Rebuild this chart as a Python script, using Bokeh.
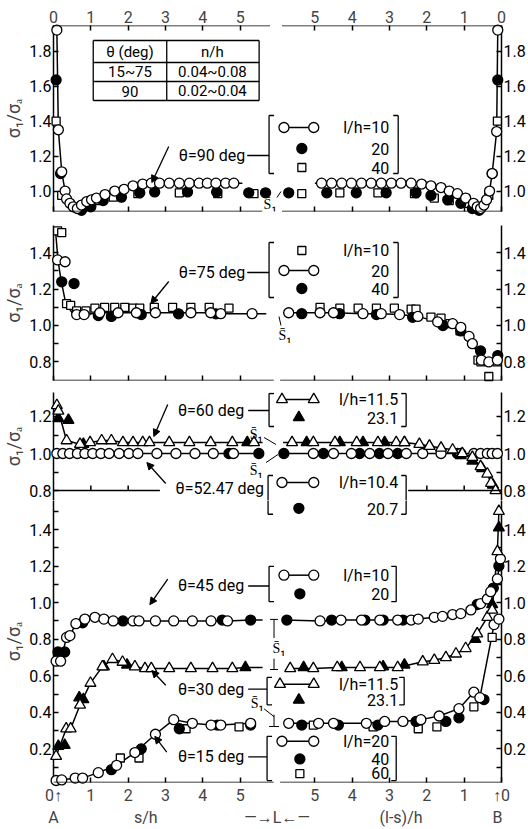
import math
from bokeh.plotting import figure
from bokeh.layouts import column
from bokeh.models import Range1d, LinearAxis, FixedTicker, Label, Arrow, NormalHead, PrintfTickFormatter
from bokeh.embed import file_html
from bokeh.resources import INLINE

FONT = "Roboto"

# ---------------- data ----------------
# *_s : s/h measured from end A (left half);  *_r : (l-s)/h measured from end B (right half)
# values are sigma1/sigma_a

# theta = 90 deg
t90_l10_s  = [0.09, 0.13, 0.22, 0.31, 0.35, 0.44, 0.53, 0.64, 0.75, 0.89, 1.02, 1.15, 1.38, 1.64, 1.89, 2.13, 2.39, 2.62, 2.84, 3.10, 3.37, 3.64, 3.90, 4.12, 4.35, 4.61, 4.83]
t90_l10_sv = [1.92, 1.35, 1.11, 1.00, 0.955, 0.93, 0.91, 0.90, 0.92, 0.94, 0.95, 0.96, 0.98, 1.00, 1.01, 1.03, 1.04, 1.045, 1.045, 1.045, 1.045, 1.045, 1.045, 1.045, 1.045, 1.045, 1.045]
t90_l10_r  = [4.82, 4.55, 4.28, 4.02, 3.75, 3.49, 3.22, 2.95, 2.69, 2.42, 2.14, 1.89, 1.62, 1.40, 1.18, 0.96, 0.75, 0.65, 0.56, 0.47, 0.40, 0.32, 0.25, 0.13, 0.10]
t90_l10_rv = [1.045, 1.045, 1.045, 1.045, 1.045, 1.045, 1.045, 1.045, 1.045, 1.045, 1.04, 1.03, 1.02, 1.00, 0.985, 0.96, 0.93, 0.91, 0.90, 0.92, 0.95, 1.00, 1.10, 1.34, 1.92]
t90_l20_s  = [0.07, 0.19, 0.75, 1.00, 1.33, 1.82, 2.31, 2.71, 3.59, 4.37, 5.23, 5.68]
t90_l20_sv = [1.635, 1.10, 0.89, 0.91, 0.946, 0.965, 0.99, 0.995, 0.995, 0.995, 0.99, 0.99]
t90_l20_r  = [5.70, 4.68, 3.89, 3.09, 2.29, 1.89, 1.44, 1.09, 0.78, 0.60, 0.25, 0.10]
t90_l20_rv = [0.99, 0.99, 0.99, 0.99, 0.99, 0.975, 0.95, 0.93, 0.90, 0.89, 1.10, 1.635]
t90_l40_s  = [0.07, 0.22, 1.15, 1.60, 2.26, 3.37, 4.40, 5.37]
t90_l40_sv = [1.40, 0.975, 0.946, 0.965, 0.985, 0.99, 0.985, 0.985]
t90_l40_r  = [5.35, 4.33, 3.31, 2.33, 1.80, 1.40, 0.87, 0.34, 0.11]
t90_l40_rv = [0.985, 0.99, 0.99, 0.985, 0.96, 0.946, 0.93, 0.975, 1.40]
t90_curve_s,  t90_curve_sv = t90_l10_s + [5.06], t90_l10_sv + [1.045]
t90_curve_r,  t90_curve_rv = [5.00] + t90_l10_r, [1.045] + t90_l10_rv

# theta = 75 deg
t75_l10_s  = [0.11, 0.22, 0.35, 0.46, 0.62, 0.87, 1.11, 1.37, 1.64, 1.91, 2.13, 2.31, 2.70, 3.19, 3.68, 4.17, 4.70]
t75_l10_sv = [1.52, 1.51, 1.12, 1.11, 1.08, 1.08, 1.095, 1.10, 1.10, 1.10, 1.095, 1.095, 1.10, 1.10, 1.10, 1.10, 1.095]
t75_l10_r  = [4.86, 4.33, 3.84, 3.35, 2.87, 2.42, 2.29, 1.89, 1.62, 1.38, 1.11, 0.63, 0.55, 0.34, 0.12]
t75_l10_rv = [1.10, 1.095, 1.095, 1.095, 1.095, 1.09, 1.09, 1.046, 1.04, 1.01, 0.97, 0.81, 0.80, 0.72, 0.80]
t75_l20_s  = [0.11, 0.31, 0.62, 0.82, 1.24, 1.73, 2.22, 2.73, 3.68, 4.21, 4.48, 5.32]
t75_l20_sv = [1.36, 1.35, 1.06, 1.06, 1.07, 1.07, 1.07, 1.07, 1.07, 1.07, 1.065, 1.065]
t75_l20_r  = [5.70, 4.86, 4.50, 3.71, 3.22, 2.73, 2.24, 1.71, 1.31, 1.09, 0.87, 0.78, 0.54, 0.34, 0.11]
t75_l20_rv = [1.07, 1.07, 1.07, 1.065, 1.065, 1.06, 1.05, 1.02, 1.01, 0.99, 0.94, 0.90, 0.81, 0.80, 0.81]
t75_l40_s  = [0.22, 0.55, 1.20, 1.55, 2.35, 3.35, 4.35]
t75_l40_sv = [1.24, 1.23, 1.055, 1.05, 1.06, 1.064, 1.064]
t75_l40_r  = [5.35, 4.34, 3.35, 2.38, 1.57, 1.09, 0.56, 0.10]
t75_l40_rv = [1.065, 1.065, 1.06, 1.045, 1.00, 0.97, 0.86, 0.835]
t75_curve_s  = [0.05, 0.12, 0.20, 0.33, 0.50, 0.62, 0.82, 1.24, 1.73, 2.22, 2.73, 3.68, 4.21, 4.48, 5.32, 5.70]
t75_curve_sv = [1.53, 1.36, 1.25, 1.12, 1.07, 1.06, 1.06, 1.07, 1.07, 1.07, 1.07, 1.07, 1.07, 1.065, 1.065, 1.065]
t75_curve_r,  t75_curve_rv = [5.85] + t75_l20_r, [1.07] + t75_l20_rv

# theta = 60 deg
t60_l115_s  = [0.09, 0.13, 0.35, 0.71, 0.98, 1.29, 1.55, 1.86, 2.13, 2.39, 2.57, 3.10, 3.64, 4.21, 4.79, 5.37]
t60_l115_sv = [1.26, 1.23, 1.07, 1.05, 1.06, 1.07, 1.07, 1.06, 1.06, 1.06, 1.06, 1.06, 1.06, 1.06, 1.06, 1.06]
t60_l115_r  = [5.61, 5.04, 4.46, 3.88, 3.31, 2.82, 2.60, 2.20, 1.93, 1.62, 1.31, 1.05, 0.78, 0.56, 0.38, 0.28, 0.16]
t60_l115_rv = [1.06, 1.06, 1.06, 1.06, 1.06, 1.06, 1.06, 1.05, 1.04, 1.03, 1.02, 1.00, 0.98, 0.93, 0.89, 0.84, 0.80]
t60_l231_s  = [0.13, 0.40, 0.80, 5.19]
t60_l231_sv = [1.19, 1.18, 1.05, 1.06]
t60_l231_r  = [5.22, 4.33, 3.71, 3.13, 2.60, 1.93, 1.09, 0.78, 0.52, 0.23]
t60_l231_rv = [1.06, 1.06, 1.06, 1.06, 1.06, 1.04, 0.99, 0.96, 0.92, 0.83]
t60_curve_s,  t60_curve_sv = t60_l115_s + [5.60], t60_l115_sv + [1.06]
t60_curve_r,  t60_curve_rv = [5.85] + t60_l115_r, [1.06] + t60_l115_rv

# theta = 52.47 deg
t52_l104_s  = [0.09, 0.25, 0.43, 0.64, 0.84, 1.05, 1.27, 1.49, 1.76, 2.02, 2.26, 2.77, 3.28, 3.79, 4.28, 4.82]
t52_l104_sv = [1.0, 1.0, 1.0, 1.0, 1.0, 1.0, 1.0, 1.0, 1.0, 1.0, 1.0, 1.0, 1.0, 1.0, 1.0, 1.0]
t52_l104_r  = [5.04, 4.50, 4.02, 3.53, 3.04, 2.55, 2.11, 1.62, 1.09, 0.74, 0.56, 0.38, 0.25, 0.11]
t52_l104_rv = [1.0, 1.0, 1.0, 1.0, 1.0, 1.0, 1.0, 1.0, 1.0, 1.0, 1.0, 1.0, 1.0, 1.0]
t52_l207_s  = [4.70, 5.50]
t52_l207_sv = [1.0, 1.0]
t52_l207_r  = [5.83, 4.77, 3.80, 3.27, 2.78, 1.18]
t52_l207_rv = [1.0, 1.0, 1.0, 1.0, 1.0, 1.0]
t52_curve_s,  t52_curve_sv = t52_l104_s + [5.50], t52_l104_sv + [1.0]
t52_curve_r,  t52_curve_rv = [5.83] + t52_l104_r, [1.0] + t52_l104_rv

# theta = 45 deg
t45_l10_s  = [0.07, 0.19, 0.35, 0.44, 0.60, 0.84, 1.11, 1.35, 1.60, 2.13, 2.29, 2.73, 3.22, 3.72, 4.22, 4.66]
t45_l10_sv = [0.68, 0.68, 0.81, 0.82, 0.885, 0.91, 0.92, 0.91, 0.90, 0.90, 0.90, 0.90, 0.90, 0.90, 0.90, 0.90]
t45_l10_r  = [4.86, 4.30, 3.75, 3.26, 2.78, 2.42, 2.23, 1.80, 1.58, 1.31, 1.09, 0.82, 0.56, 0.38, 0.29, 0.11, 0.03]
t45_l10_rv = [0.90, 0.905, 0.905, 0.905, 0.905, 0.905, 0.91, 0.92, 0.925, 0.935, 0.94, 0.96, 0.995, 1.02, 1.06, 1.13, 1.24]
t45_l20_s  = [0.12, 0.30, 0.78, 1.86, 4.52, 5.28]
t45_l20_sv = [0.73, 0.73, 0.89, 0.90, 0.905, 0.905]
t45_l20_r  = [5.75, 4.55, 3.66, 3.17, 2.64, 0.65, 0.22, 0.07]
t45_l20_rv = [0.905, 0.905, 0.905, 0.905, 0.905, 0.99, 1.08, 1.20]
t45_curve_s,  t45_curve_sv = t45_l10_s + [5.28, 5.60], t45_l10_sv + [0.905, 0.905]
t45_curve_r,  t45_curve_rv = [5.80] + t45_l10_r, [0.905] + t45_l10_rv

# theta = 30 deg
t30_l115_s  = [0.07, 0.34, 0.46, 0.71, 0.99, 1.31, 1.58, 1.85, 2.18, 2.45, 2.62, 3.10, 3.68, 4.26, 4.79]
t30_l115_sv = [0.16, 0.31, 0.31, 0.44, 0.56, 0.65, 0.69, 0.675, 0.65, 0.64, 0.64, 0.64, 0.64, 0.64, 0.64]
t30_l115_r  = [5.66, 5.04, 4.40, 3.79, 3.26, 2.78, 2.11, 1.80, 1.49, 1.22, 0.96, 0.65, 0.38, 0.25, 0.11, 0.07]
t30_l115_rv = [0.64, 0.64, 0.645, 0.645, 0.645, 0.645, 0.677, 0.685, 0.70, 0.72, 0.75, 0.83, 0.92, 0.96, 1.28, 1.50]
t30_l231_s  = [0.13, 0.30, 0.69, 0.80, 1.35, 1.97, 5.14]
t30_l231_sv = [0.215, 0.22, 0.48, 0.47, 0.65, 0.66, 0.645]
t30_l231_r  = [5.30, 4.28, 3.17, 2.60, 0.70, 0.25, 0.07]
t30_l231_rv = [0.645, 0.645, 0.65, 0.66, 0.80, 0.99, 1.41]
t30_curve_s,  t30_curve_sv = t30_l115_s + [5.14, 5.60], t30_l115_sv + [0.645, 0.645]
t30_curve_r,  t30_curve_rv = t30_l115_r, t30_l115_rv

# theta = 15 deg
t15_l20_s  = [0.07, 0.22, 0.58, 0.78, 1.20, 1.69, 2.18, 2.73, 3.22, 3.72, 4.22, 4.48, 5.28]
t15_l20_sv = [0.027, 0.03, 0.04, 0.04, 0.07, 0.11, 0.18, 0.28, 0.36, 0.34, 0.33, 0.33, 0.34]
t15_l20_r  = [5.70, 4.90, 4.50, 3.62, 3.13, 2.64, 2.16, 1.67, 1.14, 0.74, 0.58, 0.20, 0.07]
t15_l20_rv = [0.34, 0.34, 0.34, 0.34, 0.35, 0.35, 0.36, 0.38, 0.42, 0.51, 0.48, 0.88, 0.91]
t15_l40_s  = [1.55, 2.35, 3.37, 4.39, 5.28]
t15_l40_sv = [0.086, 0.20, 0.31, 0.33, 0.33]
t15_l40_r  = [5.35, 4.37, 3.31, 2.29, 1.49, 1.14, 0.47]
t15_l40_rv = [0.33, 0.33, 0.33, 0.35, 0.35, 0.37, 0.47]
t15_l60_s  = [1.79, 2.29, 3.55, 4.97]
t15_l60_sv = [0.15, 0.15, 0.31, 0.32]
t15_l60_r  = [5.04, 3.44, 2.23, 1.73, 0.74, 0.25]
t15_l60_rv = [0.33, 0.32, 0.31, 0.32, 0.43, 0.81]
t15_curve_s,  t15_curve_sv = t15_l20_s, t15_l20_sv
t15_curve_r,  t15_curve_rv = t15_l20_r, t15_l20_rv

# ticks and captions
s_ticks = [0, 1, 2, 3, 4, 5]
r_ticks = [5, 4, 3, 2, 1, 0]
p1_major, p1_minor = [1.0, 1.2, 1.4, 1.6, 1.8], []
p2_major, p2_minor = [0.8, 1.0, 1.2, 1.4], [0.9, 1.1, 1.3]
p3_major, p3_minor = [0.8, 1.0, 1.2], [0.9, 1.1]
p4_major, p4_minor = [0.2, 0.4, 0.6, 0.8, 1.0, 1.2, 1.4], [0.1, 0.3, 0.5, 0.7, 0.9, 1.1, 1.3, 1.5]
Y_TITLE = "\u03c3\u2081/\u03c3\u2090"
CAPTIONS = ["A", "s/h", "\u2014\u2192L\u2190\u2014", "(l-s)/h", "B"]

# ---------------- layout geometry ----------------
XB = 12.0                 # position of (l-s)/h = 0 on the shared horizontal scale
FRAME_L, FRAME_R, W = 50, 501, 528
CAPTION_X = [0.0, 2.47, 5.99, 9.31, 11.89]
PANELS = [
    dict(ytop=1.946, ybot=0.883, ftop=25, fbot=211, btop=25, bbot=9),
    dict(ytop=1.549, ybot=0.698, ftop=225, fbot=380, btop=5, bbot=5),
    dict(ytop=1.3297, ybot=0.746, ftop=392, fbot=500, btop=7, bbot=0),
    dict(ytop=1.559, ybot=0.016, ftop=500, fbot=787, btop=0, bbot=42),
]

STYLES = {
    "oc": dict(marker="circle", size=10, fill_color="white"),
    "fc": dict(marker="circle", size=10, fill_color="black"),
    "sq": dict(marker="square", size=8, fill_color="white"),
    "ot": dict(marker="triangle", size=11, fill_color="white"),
    "ft": dict(marker="triangle", size=11, fill_color="black"),
}


def P(k, px, py):
    g = PANELS[k]
    x = (px - FRAME_L) / (FRAME_R - FRAME_L) * XB
    y = g["ytop"] - (py - g["ftop"]) / (g["fbot"] - g["ftop"]) * (g["ytop"] - g["ybot"])
    return x, y


def make_fig(k, majors, minors):
    g = PANELS[k]
    p = figure(width=W, height=g["btop"] + (g["fbot"] - g["ftop"]) + g["bbot"],
               x_range=Range1d(0, XB), y_range=Range1d(g["ybot"], g["ytop"]),
               x_axis_type=None, y_axis_type=None, toolbar_location=None,
               output_backend="svg", min_border_left=FRAME_L, min_border_right=W - FRAME_R,
               min_border_top=g["btop"], min_border_bottom=g["bbot"],
               outline_line_color=None, background_fill_color="white",
               border_fill_color="white")
    for side in ("left", "right"):
        ax = LinearAxis(ticker=FixedTicker(ticks=majors, minor_ticks=minors),
                        formatter=PrintfTickFormatter(format="%.1f"),
                        major_tick_in=5, major_tick_out=0, minor_tick_in=5, minor_tick_out=0,
                        major_label_standoff=2, axis_line_width=1.5,
                        major_tick_line_width=1.5, minor_tick_line_width=1.5,
                        major_label_text_font=FONT, major_label_text_font_size="16px",
                        major_label_text_color="black")
        if side == "left":
            ax.axis_label = Y_TITLE
            ax.axis_label_text_font = FONT
            ax.axis_label_text_font_size = "18px"
            ax.axis_label_text_font_style = "normal"
            ax.axis_label_standoff = 2
        p.add_layout(ax, side)
    return p


def xaxis(p, side, s_t, r_t, labelled):
    ticks = list(s_t) + [XB - r for r in r_t]
    ax = LinearAxis(ticker=FixedTicker(ticks=ticks, minor_ticks=[]), axis_line_color=None,
                    major_tick_in=5, major_tick_out=0, major_tick_line_width=1.5)
    if labelled:
        labels = {float(t): str(v) for t, v in zip(s_t, s_t)}
        labels.update({float(XB - r): str(r) for r in r_t})
        if side == "below":
            labels[0.0] = "0\u2191"
            labels[float(XB)] = "\u21910"
        ax.major_label_overrides = labels
        ax.major_label_text_font = FONT
        ax.major_label_text_font_size = "16px"
        ax.major_label_standoff = 3
    else:
        ax.major_label_text_font_size = "1px"
        ax.major_label_text_color = None
        ax.major_label_standoff = 0
    p.add_layout(ax, side)


def caption_axis(p):
    ax = LinearAxis(ticker=FixedTicker(ticks=CAPTION_X, minor_ticks=[]), axis_line_color=None,
                    major_tick_line_color=None, major_tick_in=0, major_tick_out=0,
                    major_label_overrides={x: c for x, c in zip(CAPTION_X, CAPTIONS)},
                    major_label_text_font=FONT, major_label_text_font_size="16px",
                    major_label_standoff=0)
    p.add_layout(ax, "below")


def seg(p, k, px0, py0, px1, py1, w=1.3, head=False):
    x0, y0 = P(k, px0, py0)
    x1, y1 = P(k, px1, py1)
    end = NormalHead(size=7, fill_color="black", line_color="black", line_width=1) if head else None
    p.add_layout(Arrow(x_start=x0, y_start=y0, x_end=x1, y_end=y1, start=None, end=end,
                       line_width=w, line_color="black", level="overlay"))


def hline(p, k, x0, x1, py, w=1.5):
    _, y = P(k, 0, py)
    p.add_layout(Arrow(x_start=x0, y_start=y, x_end=x1, y_end=y, start=None, end=None,
                       line_width=w, line_color="black", level="overlay"))


def vtick(p, k, x, py, length=5):
    _, y0 = P(k, 0, py)
    _, y1 = P(k, 0, py - length)
    p.add_layout(Arrow(x_start=x, y_start=y0, x_end=x, y_end=y1, start=None, end=None,
                       line_width=1.5, line_color="black", level="overlay"))


def txt(p, k, px, py, s, size=16, align="left", angle=0.0):
    x, y = P(k, px, py)
    p.add_layout(Label(x=x, y=y, text=s, text_font=FONT, text_font_size=f"{size}px",
                       text_align=align, text_baseline="middle", angle=angle,
                       text_color="black", level="overlay"))


def bracket(p, k, px, py0, py1, right=False, top=True, bottom=True):
    d = -5 if right else 5
    seg(p, k, px, py0, px, py1)
    if top:
        seg(p, k, px, py0, px + d, py0)
    if bottom:
        seg(p, k, px, py1, px + d, py1)


def key(p, k, px, py, kind):
    x, y = P(k, px, py)
    p.scatter([x], [y], line_color="black", line_width=1.3, level="overlay", **STYLES[kind])


def key_line(p, k, px0, px1, py, kind):
    x0, y = P(k, px0, py)
    x1, _ = P(k, px1, py)
    p.line([x0, x1], [y, y], line_color="black", line_width=1.5, level="overlay")
    p.scatter([x0, x1], [y, y], line_color="black", line_width=1.3, level="overlay", **STYLES[kind])


def series(p, s, sv, r, rv, kind):
    xs = list(s) + [XB - v for v in r]
    ys = list(sv) + list(rv)
    p.scatter(xs, ys, line_color="black", line_width=1.3, level="overlay", **STYLES[kind])


def curve(p, s, sv, r, rv):
    p.line(list(s), list(sv), line_color="black", line_width=1.5)
    p.line([XB - v for v in r], list(rv), line_color="black", line_width=1.5)


# ---------------- panel 1 : theta = 90 ----------------
p1 = make_fig(0, p1_major, p1_minor)
xaxis(p1, "above", s_ticks, r_ticks, True)
xaxis(p1, "below", s_ticks, r_ticks, False)
hline(p1, 0, 0, 5.8, 25)
hline(p1, 0, 6.12, XB, 25)
hline(p1, 0, 0, 5.59, 211)
hline(p1, 0, 6.12, XB, 211)
curve(p1, t90_curve_s, t90_curve_sv, t90_curve_r, t90_curve_rv)
series(p1, t90_l40_s, t90_l40_sv, t90_l40_r, t90_l40_rv, "sq")
series(p1, t90_l20_s, t90_l20_sv, t90_l20_r, t90_l20_rv, "fc")
series(p1, t90_l10_s, t90_l10_sv, t90_l10_r, t90_l10_rv, "oc")
# table
for (a, b, c, d) in [(90, 40, 257, 40), (90, 100, 257, 100), (90, 40, 90, 100), (257, 40, 257, 100),
                     (164, 40, 164, 100), (90, 62, 257, 62), (90, 81, 257, 81)]:
    seg(p1, 0, a, b, c, d, w=1.3)
txt(p1, 0, 127, 51, "\u03b8 (deg)", 15, "center")
txt(p1, 0, 210, 51, "n/h", 15, "center")
txt(p1, 0, 127, 71.5, "15~75", 15, "center")
txt(p1, 0, 210, 71.5, "0.04~0.08", 15, "center")
txt(p1, 0, 127, 90.5, "90", 15, "center")
txt(p1, 0, 210, 90.5, "0.02~0.04", 15, "center")
# legend
txt(p1, 0, 243, 155, "\u03b8=90 deg", 16, "right")
seg(p1, 0, 245, 155, 267, 155)
seg(p1, 0, 166, 146, 149, 182, head=True)
bracket(p1, 0, 267, 115, 173)
bracket(p1, 0, 397, 115, 173, right=True)
key_line(p1, 0, 282, 312, 127, "oc")
txt(p1, 0, 388, 127, "l/h=10", 16, "right")
key(p1, 0, 300, 148, "fc")
txt(p1, 0, 388, 148, "20", 16, "right")
key(p1, 0, 300, 167, "sq")
txt(p1, 0, 388, 167, "40", 16, "right")
txt(p1, 0, 268, 203, "S\u0304\u2081", 14, "center")
seg(p1, 0, 275, 197, 279, 191, w=1)

# ---------------- panel 2 : theta = 75 ----------------
p2 = make_fig(1, p2_major, p2_minor)
xaxis(p2, "below", s_ticks, r_ticks, False)
hline(p2, 1, 0, 5.9, 380)
hline(p2, 1, 6.07, XB, 380)
curve(p2, t75_curve_s, t75_curve_sv, t75_curve_r, t75_curve_rv)
series(p2, t75_l10_s, t75_l10_sv, t75_l10_r, t75_l10_rv, "sq")
series(p2, t75_l40_s, t75_l40_sv, t75_l40_r, t75_l40_rv, "fc")
series(p2, t75_l20_s, t75_l20_sv, t75_l20_r, t75_l20_rv, "oc")
txt(p2, 1, 243, 272, "\u03b8=75 deg", 16, "right")
seg(p2, 1, 245, 272, 267, 272)
seg(p2, 1, 166, 281, 148, 303, head=True)
bracket(p2, 1, 267, 242, 297)
bracket(p2, 1, 397, 242, 297, right=True)
key(p2, 1, 300, 250, "sq")
txt(p2, 1, 388, 250, "l/h=10", 16, "right")
key_line(p2, 1, 282, 312, 270, "oc")
txt(p2, 1, 388, 270, "20", 16, "right")
key(p2, 1, 300, 288, "fc")
txt(p2, 1, 388, 288, "40", 16, "right")
txt(p2, 1, 283, 334, "S\u0304\u2081", 14, "center")
seg(p2, 1, 277, 316, 279, 325, w=1)

# ---------------- panel 3 : theta = 60 and 52.47 ----------------
p3 = make_fig(2, p3_major, p3_minor)
hline(p3, 2, 0, 2.85, 490)
hline(p3, 2, 9.5, XB, 490)
for xt in [1, 2, XB - 2, XB - 1]:
    vtick(p3, 2, xt, 490)
curve(p3, t52_curve_s, t52_curve_sv, t52_curve_r, t52_curve_rv)
curve(p3, t60_curve_s, t60_curve_sv, t60_curve_r, t60_curve_rv)
series(p3, t52_l207_s, t52_l207_sv, t52_l207_r, t52_l207_rv, "fc")
series(p3, t52_l104_s, t52_l104_sv, t52_l104_r, t52_l104_rv, "oc")
series(p3, t60_l231_s, t60_l231_sv, t60_l231_r, t60_l231_rv, "ft")
series(p3, t60_l115_s, t60_l115_sv, t60_l115_r, t60_l115_rv, "ot")
txt(p3, 2, 242, 410, "\u03b8=60 deg", 16, "right")
seg(p3, 2, 246, 410, 267, 410)
seg(p3, 2, 165, 404, 151, 436, head=True)
bracket(p3, 2, 267, 393, 426)
bracket(p3, 2, 405, 393, 426, right=True)
key_line(p3, 2, 280, 312, 399, "ot")
txt(p3, 2, 397, 399, "l/h=11.5", 16, "right")
key(p3, 2, 297, 417, "ft")
txt(p3, 2, 397, 417, "23.1", 16, "right")
txt(p3, 2, 254, 433, "S\u0304\u2081", 14, "center")
seg(p3, 2, 262, 437, 274, 444, w=1)
txt(p3, 2, 254, 469, "S\u0304\u2081", 14, "center")
seg(p3, 2, 264, 462, 276, 454, w=1)
# theta = 52.47 legend, upper part
seg(p3, 2, 163, 483, 144, 462, head=True)
txt(p3, 2, 262, 488, "\u03b8=52.47 deg", 16, "right")
bracket(p3, 2, 266, 475, 501, bottom=False)
bracket(p3, 2, 405, 475, 501, right=True, bottom=False)
key_line(p3, 2, 280, 312, 482, "oc")
txt(p3, 2, 397, 482, "l/h=10.4", 16, "right")

# ---------------- panel 4 : theta = 45, 30, 15 ----------------
p4 = make_fig(3, p4_major, p4_minor)
xaxis(p4, "below", s_ticks, r_ticks, True)
caption_axis(p4)
hline(p4, 3, 0, 5.9, 787)
hline(p4, 3, 6.07, XB, 787)
curve(p4, t45_curve_s, t45_curve_sv, t45_curve_r, t45_curve_rv)
curve(p4, t30_curve_s, t30_curve_sv, t30_curve_r, t30_curve_rv)
curve(p4, t15_curve_s, t15_curve_sv, t15_curve_r, t15_curve_rv)
series(p4, t45_l20_s, t45_l20_sv, t45_l20_r, t45_l20_rv, "fc")
series(p4, t45_l10_s, t45_l10_sv, t45_l10_r, t45_l10_rv, "oc")
series(p4, t30_l231_s, t30_l231_sv, t30_l231_r, t30_l231_rv, "ft")
series(p4, t30_l115_s, t30_l115_sv, t30_l115_r, t30_l115_rv, "ot")
series(p4, t15_l60_s, t15_l60_sv, t15_l60_r, t15_l60_rv, "sq")
series(p4, t15_l40_s, t15_l40_sv, t15_l40_r, t15_l40_rv, "fc")
series(p4, t15_l20_s, t15_l20_sv, t15_l20_r, t15_l20_rv, "oc")
# theta = 52.47 legend, lower part
bracket(p4, 3, 266, 499, 514, top=False)
bracket(p4, 3, 405, 499, 514, right=True, top=False)
key(p4, 3, 297, 508, "fc")
txt(p4, 3, 397, 509, "20.7", 16, "right")
# 45
txt(p4, 3, 242, 587, "\u03b8=45 deg", 16, "right")
seg(p4, 3, 246, 587, 267, 587)
seg(p4, 3, 165, 580, 147, 606, head=True)
bracket(p4, 3, 267, 567, 603)
bracket(p4, 3, 395, 567, 603, right=True)
key_line(p4, 3, 282, 312, 576, "oc")
txt(p4, 3, 388, 576, "l/h=10", 16, "right")
key(p4, 3, 298, 595, "fc")
txt(p4, 3, 388, 595, "20", 16, "right")
seg(p4, 3, 272, 621, 272, 640, w=1)
seg(p4, 3, 272, 661, 272, 672, w=1)
seg(p4, 3, 268, 621, 276, 621, w=1)
seg(p4, 3, 268, 672, 276, 672, w=1)
txt(p4, 3, 277, 650, "S\u0304\u2081", 14, "center")
# 30
txt(p4, 3, 242, 692, "\u03b8=30 deg", 16, "right")
seg(p4, 3, 246, 692, 265, 692)
seg(p4, 3, 163, 688, 149, 673, head=True)
bracket(p4, 3, 265, 680, 708)
bracket(p4, 3, 403, 680, 708, right=True)
key_line(p4, 3, 278, 312, 687, "ot")
txt(p4, 3, 397, 687, "l/h=11.5", 16, "right")
key(p4, 3, 297, 703, "ft")
txt(p4, 3, 397, 703, "23.1", 16, "right")
txt(p4, 3, 255, 706, "S\u0304\u2081", 14, "center")
seg(p4, 3, 262, 712, 272, 720, w=1)
seg(p4, 3, 272, 718, 272, 730, w=1)
seg(p4, 3, 267, 730, 277, 730, w=1)
# 15
txt(p4, 3, 242, 761, "\u03b8=15 deg", 16, "right")
seg(p4, 3, 246, 761, 265, 761)
seg(p4, 3, 164, 756, 152, 740, head=True)
bracket(p4, 3, 265, 740, 785)
bracket(p4, 3, 395, 740, 785, right=True)
key_line(p4, 3, 280, 312, 745, "oc")
txt(p4, 3, 388, 745, "l/h=20", 16, "right")
key(p4, 3, 298, 763, "fc")
txt(p4, 3, 388, 763, "40", 16, "right")
key(p4, 3, 298, 778, "sq")
txt(p4, 3, 388, 777, "60", 16, "right")

layout = column(p1, p2, p3, p4, spacing=0)
open("out.html", "w").write(file_html(layout, INLINE))
